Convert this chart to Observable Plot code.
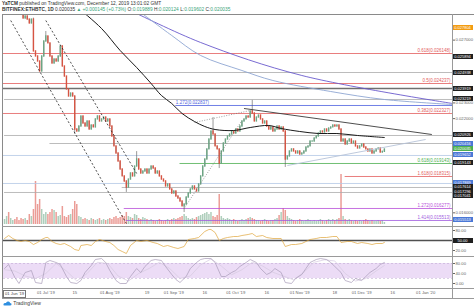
<!DOCTYPE html>
<html><head><meta charset="utf-8">
<script src="https://cdn.jsdelivr.net/npm/d3@7"></script>
<script src="https://cdn.jsdelivr.net/npm/@observablehq/plot@0.6"></script>
<style>
html,body{margin:0;padding:0;background:#fff}
#wrap{position:relative;width:474px;height:308px;overflow:hidden;background:#fff;font-family:"Liberation Sans",Arial,sans-serif}
.pane{position:absolute;left:0;overflow:hidden}
.hdr{position:absolute;left:2px;white-space:nowrap;font-size:4.8px;color:#333;line-height:1}
.badge{position:absolute;left:452px;width:21px;height:5px;font-size:4px;line-height:5px;color:#fff;text-align:center;overflow:hidden}
.ln{position:absolute;background:#9a9a9a}
</style></head>
<body><div id="wrap"></div>
<script>
// ---------------- DATA ----------------
const author = "YaTCM";
const published = "published on TradingView.com, December 12, 2019 13:01:02 GMT";
const symbol = "BITFINEX:ETHBTC, 1D";
const lastPrice = "0.020035", change = "▲ +0.000145 (+0.73%)";
const ohlcNames = ["O", "H", "L", "C"];
const ohlcValues = ["0.019889", "0.020124", "0.019602", "0.020035"];

const startDate = "2019-06-11";           // first daily candle
const firstOpen = 0.03000;
const close = [
 0.03005,0.03030,0.02985,0.03010,0.03050,0.03020,0.02990,0.02960,0.02920,
 0.02838,0.02851,0.02831,0.02806,0.02831,0.02628,0.02596,0.02564,0.02500,0.02596,0.02691,
 0.02723,0.02679,0.02596,0.02551,0.02577,0.02564,0.02596,0.02660,0.02532,0.02468,
 0.02386,0.02341,0.02360,0.02341,0.02131,0.02118,0.02150,0.02214,0.02169,0.02150,
 0.02182,0.02131,0.02156,0.02144,0.02195,0.02214,0.02182,0.02195,0.02207,0.02182,
 0.02195,0.02150,0.02086,0.02023,0.01978,0.01927,0.01876,0.01832,0.01800,0.01761,
 0.01812,0.01851,0.01832,0.01895,0.01940,0.01876,0.01851,0.01863,0.01876,0.01851,
 0.01876,0.01895,0.01882,0.01851,0.01863,0.01832,0.01812,0.01800,0.01768,0.01781,
 0.01749,0.01723,0.01736,0.01704,0.01691,0.01672,0.01641,0.01653,0.01698,0.01723,
 0.01749,0.01768,0.01749,0.01736,0.01781,0.01832,0.01895,0.01940,0.02004,0.02067,
 0.02118,0.02099,0.02023,0.02004,0.01914,0.01991,0.02042,0.02067,0.02086,0.02099,
 0.02118,0.02105,0.02131,0.02118,0.02150,0.02182,0.02195,0.02214,0.02207,0.02246,
 0.02233,0.02182,0.02207,0.02220,0.02195,0.02169,0.02182,0.02150,0.02131,0.02144,
 0.02118,0.02131,0.02150,0.02131,0.02144,0.02118,0.01940,0.01959,0.01991,0.02004,
 0.01991,0.01978,0.01991,0.01972,0.01978,0.01991,0.02016,0.02023,0.02054,0.02054,
 0.02074,0.02086,0.02105,0.02118,0.02112,0.02131,0.02118,0.02137,0.02144,0.02156,
 0.02150,0.02156,0.02131,0.02054,0.02067,0.02035,0.02054,0.02067,0.02042,0.02054,
 0.02023,0.02010,0.02023,0.02035,0.02016,0.02004,0.01991,0.02004,0.01978,0.01991,
 0.02004,0.02010,0.01984,0.019889,0.020035];
const volume = [
 5,8,12,6,4,5,7,4,6,5, 6,4,10,8,15,43,20,25,15,10, 12,10,12,15,14,12,8,9,18,8,
 7,9,10,15,23,20,8,7,5,6, 5,4,6,5,4,5,6,4,5,4, 5,6,5,7,8,6,7,9,8,12,
 8,7,6,10,9,6,5,7,6,5, 4,5,4,3,4,5,4,3,4,5, 4,5,6,5,6,7,8,10,8,6,
 5,6,5,7,8,9,10,11,12,10, 12,8,7,9,30,8,6,5,6,5, 4,5,4,3,4,5,4,5,6,7,
 6,5,4,4,3,4,5,4,3,4, 4,5,6,9,12,16,14,8,6,5, 4,3,4,5,4,3,4,5,4,3,
 4,3,4,5,4,3,4,5,4,5, 4,5,6,50,8,5,4,5,4,3, 4,3,4,3,4,5,4,3,4,3, 3,4,3,4,2];
// notable wicks (day index after startDate)
const wickDay  = [9, 14, 20, 34, 59, 64, 87, 101, 104, 120, 136];
const wickHigh = [0.02880, 0.02840, 0.02755, null, null, 0.01990, null, 0.02207, null, 0.02316, null];
const wickLow  = [null, null, null, 0.02100, 0.01730, null, 0.01602, null, 0.01882, null, 0.01889];

// moving averages (sampled)
const maDay   = [36,47,56,64,71,76,81,86,92,97,102,111,119,128,134,143,152,161,171,184];
const maPrice = [0.029014,0.027741,0.026340,0.025257,0.024238,0.023473,0.022964,0.022327,0.021818,0.021499,
                 0.021308,0.021244,0.021435,0.021563,0.021372,0.021181,0.021053,0.021053,0.020926,0.020798];
const ma2Day   = [66,81,95,115,130,158,184,217];
const ma2Price = [0.028760,0.027295,0.026021,0.025066,0.024429,0.023728,0.023219,0.022900];
const purpleDay   = [63,95,144,217];
const purplePrice = [0.028760,0.026849,0.024748,0.022964];

// trend lines
const trendFromDay   = [3, 20, 87, 92, 116, 137];
const trendFromPrice = [0.028250, 0.028250, 0.016277, 0.021754, 0.022646, 0.019015];
const trendToDay     = [59, 64, 115, 119, 207, 204];
const trendToPrice   = [0.015321, 0.018506, 0.021881, 0.022518, 0.020989, 0.020671];

// horizontal levels
const fibPrice = [0.026148, 0.024237, 0.022327];
const fibLabel = ["0.618(0.026148)", "0.5(0.024237)", "0.382(0.022327)"];
const grayPrice = [0.024938, 0.023219, 0.020926, 0.020416, 0.017614, 0.017296];
const grayFrom  = [0, 0, 0, 22, 57, 0];
const darkPrice = [0.023919];
const lightBluePrice = [0.019652, 0.017869];
const extPrice = [0.022837, 0.019143, 0.018315, 0.016277, 0.015513];
const extLabel = ["1.272(0.022837)", "0.618(0.019143)", "1.618(0.018315)", "1.272(0.016277)", "1.414(0.015513)"];
const extFrom  = [83, 85, 165, 58, 59];

// price axis
const priceTicks = [0.027, 0.023, 0.022, 0.016];
const badgePrice = [0.027804,0.025894,0.024938,0.023919,0.023219,0.020926,0.020416,0.020035,0.019652,0.019143,0.017869,0.017614,0.017296,0.017041,0.015513];
const badgeKind  = ["orange","black","black","black","black","black","blue","green","blue","black","blue","black","black","black","blue"];

// RSI (sampled)
const rsiDay = [0,2,4,6,8,10,12,14,16,18,20,21,23,25,27,29,32,34,36,37,40,42,44,46,49,51,53,55,57,59,61,64,66,69,72,74,77,79,82,84,87,89,92,94,97,99,100,102,104,106,108,111,113,115,118,120,122,125,127,130,132,134,136,139,141,144,146,148,151,153,156,159,161,163,166,168,171,173,176,178,180,183,184];
const rsiVal = [56,65,56,50,47,50,47,38,44,53,59,59,47,41,38,41,32,23,20,35,38,35,47,53,47,44,35,23,17,11,35,50,47,50,44,41,32,35,29,26,32,53,56,59,77,83,83,74,50,56,59,62,62,65,68,71,62,65,59,56,56,56,32,38,38,41,47,53,56,59,59,62,62,44,47,47,41,44,41,38,41,41,44];
const rsiTicks = [80, 20];
const rsiMid = 50;

// Stoch RSI (sampled)
const stochDay = [0,2,5,7,10,13,15,18,20,22,25,27,30,32,35,37,39,42,44,47,49,51,54,56,59,61,64,66,68,71,73,76,78,81,83,85,88,90,93,95,97,100,102,105,107,110,112,114,117,119,122,124,127,129,131,134,136,139,141,144,146,148,151,153,156,158,160,163,165,168,170,173,175,177,180,182,184];
const stochK = [60,76,24,0,44,52,4,0,84,92,84,76,28,4,0,12,44,72,96,100,84,52,12,0,0,28,60,44,68,92,96,92,68,36,16,4,28,60,84,96,100,100,84,28,28,44,52,68,84,96,84,60,36,44,60,44,4,0,20,36,60,84,96,100,96,84,68,44,12,4,20,12,28,44,60,76,84];
const stochDDay = [0,5,10,15,20,25,30,35,40,45,50,55,60,65,70,75,80,85,90,95,100,105,110,115,120,125,130,135,140,145,150,155,160,165,170,175,180,184];
const stochD = [55,50,30,20,40,80,50,10,40,85,80,30,10,40,60,85,60,20,30,75,98,70,35,55,85,70,45,30,15,45,85,95,90,40,10,20,50,72];
const stochBand = [20, 80];
const stochTicks = [80, 40, 0];

// time axis
const xTickDates  = ["2019-07-01","2019-07-15","2019-08-01","2019-08-19","2019-09-01","2019-09-16","2019-10-01","2019-10-16","2019-11-01","2019-11-18","2019-12-01","2019-12-16","2020-01-01"];
const xTickLabels = ["01 Jul '19","15","01 Aug '19","19","01 Sep '19","16","01 Oct '19","16","01 Nov '19","18","01 Dec '19","16","01 Jan '20"];
const cursorLabel = "01 Jun '19";

// ---------------- BUILD ----------------
const W = 474, ML = 3, MR = 22;
const font = "Liberation Sans, Arial, sans-serif";
const t0 = Date.parse(startDate + "T00:00:00Z");
const toDate = d => new Date(t0 + d * 864e5);
const xDomain = [toDate(-0.5), toDate(217)];
const xOpt = {type: "utc", domain: xDomain, axis: null};
const wrap = document.getElementById("wrap");
const baseStyle = {background: "transparent", fontFamily: font, fontSize: "4.2px", color: "#666", overflow: "hidden"};

function place(node, top, h) {
  const d = document.createElement("div");
  d.className = "pane"; d.style.top = top + "px"; d.style.height = h + "px"; d.style.width = W + "px";
  d.appendChild(node); wrap.appendChild(d); return d;
}
function line(l, t, w, h, c) {
  const d = document.createElement("div"); d.className = "ln";
  Object.assign(d.style, {left: l + "px", top: t + "px", width: w + "px", height: h + "px"});
  if (c) d.style.background = c; wrap.appendChild(d);
}

const candles = close.map((c, i) => {
  const o = i ? close[i - 1] : firstOpen;
  let h = Math.max(o, c), l = Math.min(o, c);
  const w = wickDay.indexOf(i);
  if (w >= 0) { if (wickHigh[w] != null) h = Math.max(h, wickHigh[w]); if (wickLow[w] != null) l = Math.min(l, wickLow[w]); }
  return {date: toDate(i), open: o, close: c, high: h, low: l, up: c >= o, vol: volume[i]};
});

const PANE_TOP = 14, PANE_H = 212;
const yTop = 0.028632, yBottom = 0.015130;

// volume layer (under the price pane)
const volPlot = Plot.plot({
  width: W, height: PANE_H, marginLeft: ML, marginRight: MR, marginTop: 0, marginBottom: 0,
  style: baseStyle, x: xOpt,
  y: {domain: [0, 52], range: [210, 158], axis: null},
  marks: [
    Plot.ruleX(candles, {x: "date", y1: () => 0, y2: "vol", strokeWidth: 1.5,
      stroke: d => d.up ? "rgba(107,165,131,0.55)" : "rgba(222,90,80,0.6)"})
  ]
});
place(volPlot, PANE_TOP, PANE_H);

const seg = (prices, from) => prices.map((p, i) => ({price: p, x1: toDate(from ? from[i] : -0.5), x2: xDomain[1]}));
const extColors = ["#4d5fe0", "#4caf50", "#e35d5d", "#b84fd9", "#9f5be0"];
const extData = extPrice.map((p, i) => ({price: p, label: extLabel[i], x1: toDate(extFrom[i]), x2: xDomain[1], color: extColors[i]}));
const trends = trendFromDay.map((d, i) => ({x1: toDate(d), y1: trendFromPrice[i], x2: toDate(trendToDay[i]), y2: trendToPrice[i]}));
const pts = (days, prices) => days.map((d, i) => ({date: toDate(d), p: prices[i]}));

const mainPlot = Plot.plot({
  width: W, height: PANE_H, marginLeft: ML, marginRight: MR, marginTop: 0, marginBottom: 0,
  style: baseStyle, x: xOpt,
  y: {domain: [yBottom, yTop], range: [PANE_H, 0], axis: "right", ticks: priceTicks,
      tickFormat: d => d.toFixed(6), tickSize: 2, tickPadding: 1, label: null},
  marks: [
    Plot.ruleY(seg(grayPrice, grayFrom), {y: "price", x1: "x1", x2: "x2", stroke: "#ababab", strokeWidth: 0.8}),
    Plot.ruleY(seg(lightBluePrice), {y: "price", x1: "x1", x2: "x2", stroke: "#b4c8e6", strokeWidth: 0.8}),
    Plot.ruleY(seg(darkPrice), {y: "price", x1: "x1", x2: "x2", stroke: "#707070", strokeWidth: 1.6}),
    Plot.ruleY(seg(fibPrice), {y: "price", x1: "x1", x2: "x2", stroke: "#e35d5d", strokeWidth: 0.8}),
    Plot.ruleY(extData, {y: "price", x1: "x1", x2: "x2", stroke: "color", strokeWidth: 0.8}),
    Plot.ruleX(candles, {x: "date", y1: "low", y2: "high", stroke: "#555", strokeWidth: 0.6, clip: true}),
    Plot.ruleX(candles, {x: "date", y1: "open", y2: "close", strokeWidth: 1.4, strokeLinecap: "square",
      stroke: d => d.up ? "#6ba583" : "#d75442", clip: true}),
    Plot.link(trends.slice(0, 2), {x1: "x1", y1: "y1", x2: "x2", y2: "y2", stroke: "#222", strokeWidth: 0.8, strokeDasharray: "2,2", clip: true}),
    Plot.link(trends.slice(2, 4), {x1: "x1", y1: "y1", x2: "x2", y2: "y2", stroke: "#777", strokeWidth: 0.7, strokeDasharray: "1,1.5", clip: true}),
    Plot.link(trends.slice(4, 5), {x1: "x1", y1: "y1", x2: "x2", y2: "y2", stroke: "#3a3a3a", strokeWidth: 0.9, clip: true}),
    Plot.link(trends.slice(5, 6), {x1: "x1", y1: "y1", x2: "x2", y2: "y2", stroke: "#b7c3d8", strokeWidth: 0.9, clip: true}),
    Plot.line(pts(purpleDay, purplePrice), {x: "date", y: "p", stroke: "#6a5acd", strokeWidth: 0.9, curve: "catmull-rom", clip: true}),
    Plot.line(pts(ma2Day, ma2Price), {x: "date", y: "p", stroke: "#8fa6d2", strokeWidth: 0.9, curve: "catmull-rom", clip: true}),
    Plot.line(pts(maDay, maPrice), {x: "date", y: "p", stroke: "#1a1a1a", strokeWidth: 1, curve: "catmull-rom", clip: true}),
    Plot.text(fibPrice.map((p, i) => ({price: p, label: fibLabel[i]})), {y: "price", text: "label", frameAnchor: "right",
      textAnchor: "end", dx: -2, dy: -2.6, fill: "#e35d5d", fontSize: 4.5}),
    Plot.text(extData.slice(0, 1), {x: "x1", y: "price", text: "label", textAnchor: "start", dy: -2.6, fill: "color", fontSize: 4.5}),
    Plot.text(extData.slice(1), {y: "price", text: "label", frameAnchor: "right", textAnchor: "end", dx: -2, dy: -2.6, fill: "color", fontSize: 4.5})
  ]
});
place(mainPlot, PANE_TOP, PANE_H);

// badges on price axis, positioned through the plot's own y scale
let sy = mainPlot.scale && mainPlot.scale("y");
const yApply = (sy && sy.apply) ? (v => sy.apply(v)) : d3.scaleLinear([yBottom, yTop], [PANE_H, 0]);
const badgeColors = {orange: "#f39c12", black: "#1f1f1f", blue: "#4a78d6", green: "#4caf50"};
badgePrice.forEach((p, i) => {
  const b = document.createElement("div"); b.className = "badge";
  b.style.top = (PANE_TOP + yApply(p) - 2.5) + "px";
  b.style.background = badgeColors[badgeKind[i]];
  b.textContent = p.toFixed(6);
  wrap.appendChild(b);
});

// RSI pane
const RSI_TOP = 226, RSI_H = 30;
const rsiPlot = Plot.plot({
  width: W, height: RSI_H, marginLeft: ML, marginRight: MR, marginTop: 0, marginBottom: 0,
  style: baseStyle, x: xOpt,
  y: {domain: [2, 92], range: [RSI_H, 0], axis: "right", ticks: rsiTicks, tickFormat: d => d.toFixed(2), tickSize: 2, tickPadding: 1, label: null},
  marks: [
    Plot.ruleY([rsiMid], {stroke: "#505050", strokeWidth: 1.4}),
    Plot.line(rsiDay.map((d, i) => ({date: toDate(d), v: rsiVal[i]})), {x: "date", y: "v", stroke: "#e0a53a", strokeWidth: 0.7, curve: "linear"})
  ]
});
place(rsiPlot, RSI_TOP, RSI_H);
let sr = rsiPlot.scale && rsiPlot.scale("y");
const rApply = (sr && sr.apply) ? (v => sr.apply(v)) : d3.scaleLinear([2, 92], [RSI_H, 0]);
{
  const b = document.createElement("div"); b.className = "badge";
  b.style.top = (RSI_TOP + rApply(rsiMid) - 2.5) + "px"; b.style.background = "#1f1f1f";
  b.textContent = rsiMid.toFixed(2); wrap.appendChild(b);
}

// Stoch RSI pane + time axis
const ST_TOP = 256, ST_H = 42;
const tickMap = new Map(xTickDates.map((s, i) => [Date.parse(s + "T00:00:00Z"), xTickLabels[i]]));
const stPlot = Plot.plot({
  width: W, height: ST_H, marginLeft: ML, marginRight: MR, marginTop: 0, marginBottom: 10,
  style: baseStyle,
  x: {type: "utc", domain: xDomain, ticks: xTickDates.map(s => new Date(s + "T00:00:00Z")),
      tickFormat: d => tickMap.get(+d), tickSize: 0, tickPadding: 3, label: null},
  y: {domain: [-20, 108], axis: "right", ticks: stochTicks, tickFormat: d => d.toFixed(2), tickSize: 2, tickPadding: 1, label: null},
  marks: [
    Plot.rect([{lo: stochBand[0], hi: stochBand[1]}], {x1: () => xDomain[0], x2: () => xDomain[1], y1: "lo", y2: "hi", fill: "#ecdcf6"}),
    Plot.ruleY(stochBand, {stroke: "#b8a3cc", strokeWidth: 0.5, strokeDasharray: "2,2"}),
    Plot.line(stochDDay.map((d, i) => ({date: toDate(d), v: stochD[i]})), {x: "date", y: "v", stroke: "#d6cadf", strokeWidth: 0.7}),
    Plot.line(stochDay.map((d, i) => ({date: toDate(d), v: stochK[i]})), {x: "date", y: "v", stroke: "#a89bb8", strokeWidth: 0.7})
  ]
});
place(stPlot, ST_TOP, ST_H);

// frame / separators
line(2, 14, 472, 1, "#8a8a8a");
line(2, 14, 1, 284, "#8a8a8a");
line(452, 14, 1, 284, "#9a9a9a");
line(2, 226, 472, 1, "#9a9a9a");
line(2, 256, 472, 1, "#9a9a9a");
line(2, 288, 472, 1, "#9a9a9a");
line(2, 298, 472, 1, "#9a9a9a");

// cursor date label
{
  const c = document.createElement("div");
  Object.assign(c.style, {position: "absolute", left: "3px", top: "289.5px", fontSize: "4.2px", lineHeight: "6px",
    padding: "0 1px", border: "0.6px solid #777", color: "#444", background: "#fff"});
  c.textContent = cursorLabel; wrap.appendChild(c);
}

// header
{
  const h1 = document.createElement("div"); h1.className = "hdr"; h1.style.top = "2px";
  h1.innerHTML = `<b>${author}</b> ${published}`; wrap.appendChild(h1);
  const h2 = document.createElement("div"); h2.className = "hdr"; h2.style.top = "8px";
  const ohlc = ohlcNames.map((n, i) => `${n}:<span style="color:#3aa57a">${ohlcValues[i]}</span>`).join(" ");
  h2.innerHTML = `<b>${symbol}</b> ${lastPrice} <span style="color:#3aa57a">${change}</span> ${ohlc}`;
  wrap.appendChild(h2);
}

// TradingView logo
{
  const g = document.createElement("div");
  Object.assign(g.style, {position: "absolute", left: "3px", top: "300px", fontSize: "5px", color: "#3c3c3c", whiteSpace: "nowrap", lineHeight: "6px"});
  g.innerHTML = `<svg width="9" height="5" viewBox="0 0 18 10" style="vertical-align:-1px"><path d="M3 9 Q0 9 1 6 Q2 3 6 4 Q7 0 11 1 Q14 1 14 4 Q18 4 17 7 Q17 9 14 9 Z" fill="#2f8fe0"/></svg> TradingView`;
  wrap.appendChild(g);
}
</script></body></html>
